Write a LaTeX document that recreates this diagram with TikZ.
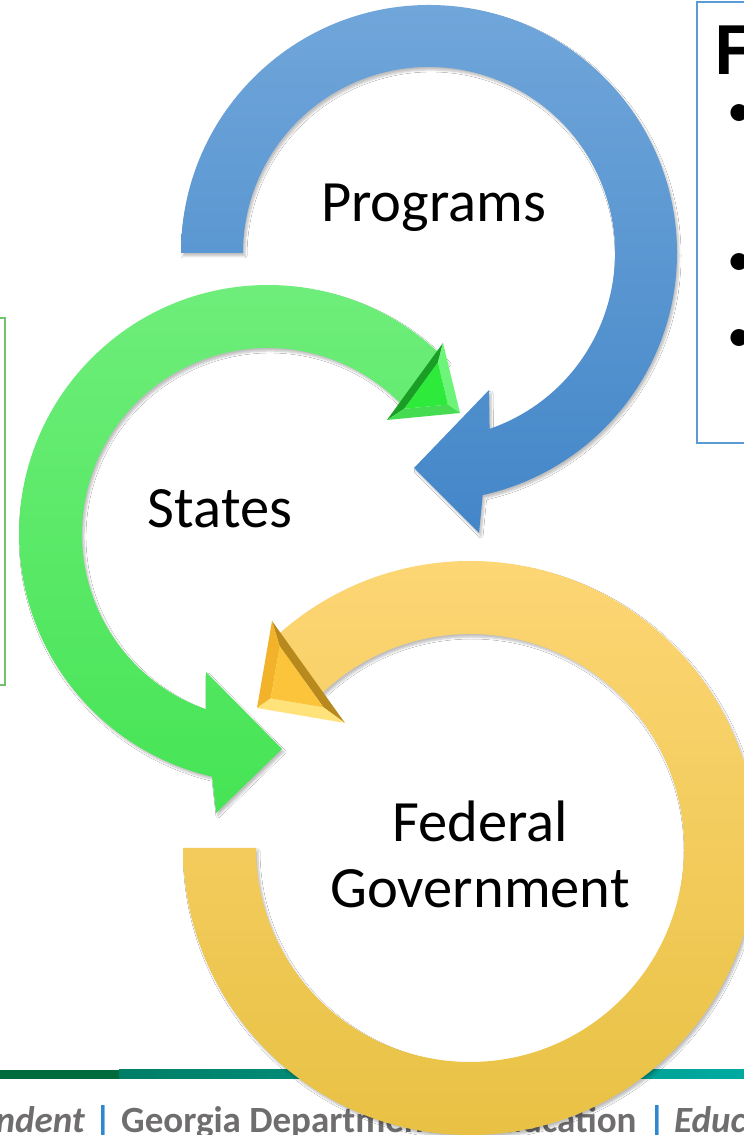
\documentclass[tikz,border=0pt]{standalone}
\usepackage{fontspec}
\setmainfont{Carlito}
\usetikzlibrary{calc,shadows.blur}
\definecolor{bluetop}{HTML}{70A6DA}
\definecolor{bluebot}{HTML}{4386C8}
\definecolor{greentop}{HTML}{70EE7C}
\definecolor{greenbot}{HTML}{46E455}
\definecolor{yeltop}{HTML}{FDD675}
\definecolor{yelbot}{HTML}{E8C144}
\definecolor{gbevdark}{HTML}{1A9E26}
\definecolor{gbevlight}{HTML}{6DF57A}
\definecolor{gbevmid}{HTML}{46DC52}
\definecolor{gbevcen}{HTML}{2EEA3B}
\definecolor{ybevdark}{HTML}{B88A1E}
\definecolor{ybevleft}{HTML}{F2B22A}
\definecolor{ybevlight}{HTML}{FFE37A}
\definecolor{ybevcen}{HTML}{FCC43A}
\definecolor{footgreen}{HTML}{006B3D}
\definecolor{teala}{HTML}{007E66}
\definecolor{tealb}{HTML}{00AAA0}
\definecolor{footgray}{HTML}{6F6D6D}
\definecolor{footblue}{HTML}{2E88D0}
\definecolor{boxblue}{HTML}{5B9BD5}
\definecolor{boxgreen}{HTML}{71C46E}
\tikzset{
  ringshadow/.style={blur shadow={shadow xshift=2pt, shadow yshift=-3pt,
      shadow blur radius=2pt, shadow blur steps=6, shadow opacity=25}},
  bluering/.style={top color=bluetop, bottom color=bluebot, ringshadow},
  greenring/.style={top color=greentop, bottom color=greenbot, ringshadow},
  yellowring/.style={top color=yeltop, bottom color=yelbot, ringshadow},
  lbl/.style={font=\fontsize{58.5}{70}\selectfont, inner sep=0pt, anchor=base, text=black},
  foot/.style={font=\bfseries\fontsize{37}{44}\selectfont, inner sep=0pt, text=footgray},
  footbar/.style={font=\bfseries\fontsize{37}{44}\selectfont, inner sep=0pt, text=footblue, anchor=base},
  bul/.style={font=\fontsize{48}{56}\selectfont, inner sep=0pt, anchor=base, text=black},
}
\begin{document}
\begin{tikzpicture}[x=1pt,y=1pt]
\useasboundingbox (0,0) rectangle (744,1135);
\clip (0,0) rectangle (744,1135);
\fill[white] (0,0) rectangle (744,1135);

% footer
\fill[footgreen] (0,56) rectangle (119,65);
\shade[left color=teala, right color=tealb] (119,56) rectangle (744,65);
\node[foot, anchor=base east] (ft1) at (85,2) {\itshape ndent};
\node[footbar] (bar1) at (103,2) {|};
\node[foot, anchor=base west] (ft2) at (121,2) {Georgia Department of Education};
\node[footbar] (bar2) at (657,2) {|};
\node[foot, anchor=base west] (ft3) at (674,2) {\itshape Educ};

% side boxes
\draw[boxgreen, line width=1.5pt] (-20,450) rectangle (5,817);
\draw[boxblue, line width=1.6pt] (697,692) rectangle (770,1133);
\node[anchor=base west, inner sep=0pt, font=\bfseries\fontsize{75}{80}\selectfont] (ftitle) at (715,1060) {F};
\node[bul] (b1) at (739,1008) {•};
\node[bul] (b2) at (739,859) {•};
\node[bul] (b3) at (739,783) {•};

% blue circular arrow
\coordinate (bc) at (429,882);
\shade[bluering] ($(bc)+(180:248)$) arc[start angle=180, end angle=-77.5, radius=248]
  -- (479,602) -- (414,667) -- (489,745)
  -- ($(bc)+(-71:186)$) arc[start angle=-71, end angle=180, radius=186] -- cycle;

% green circular arrow
\coordinate (gc) at (268,601);
\shade[greenring] ($(gc)+(44:249)$) arc[start angle=44, end angle=257, radius=249]
  -- (216,322) -- (282,386) -- (206,463)
  -- ($(gc)+(250.5:186)$) arc[start angle=250.5, end angle=44, radius=186] -- cycle;

% green bevel head
\coordinate (gA) at (443,792);
\coordinate (gB) at (387,715);
\coordinate (gT) at (460,722);
\coordinate (gO) at (barycentric cs:gA=1,gB=1,gT=1);
\coordinate (gA2) at ($(gA)!0.4!(gO)$);
\coordinate (gB2) at ($(gB)!0.4!(gO)$);
\coordinate (gT2) at ($(gT)!0.4!(gO)$);
\fill[gbevdark] (gA) -- (gB) -- (gB2) -- (gA2) -- cycle;
\fill[gbevlight] (gA) -- (gT) -- (gT2) -- (gA2) -- cycle;
\fill[gbevmid] (gB) -- (gT) -- (gT2) -- (gB2) -- cycle;
\fill[gbevcen] (gA2) -- (gB2) -- (gT2) -- cycle;

% yellow circular arrow
\coordinate (yc) at (470,287);
\shade[yellowring] ($(yc)+(180:287)$) arc[start angle=180, end angle=494, radius=287]
  -- ($(yc)+(494:214)$) arc[start angle=494, end angle=180, radius=214] -- cycle;

% yellow bevel head
\coordinate (yP) at (272,514);
\coordinate (yQ) at (345,412);
\coordinate (yT) at (257,427);
\coordinate (yO) at (barycentric cs:yP=1,yQ=1,yT=1);
\coordinate (yP2) at ($(yP)!0.4!(yO)$);
\coordinate (yQ2) at ($(yQ)!0.4!(yO)$);
\coordinate (yT2) at ($(yT)!0.4!(yO)$);
\fill[ybevdark] (yP) -- (yQ) -- (yQ2) -- (yP2) -- cycle;
\fill[ybevleft] (yP) -- (yT) -- (yT2) -- (yP2) -- cycle;
\fill[ybevlight] (yT) -- (yQ) -- (yQ2) -- (yT2) -- cycle;
\fill[ybevcen] (yP2) -- (yQ2) -- (yT2) -- cycle;

% labels
\node[lbl] (programs) at (433.5,913) {Programs};
\node[lbl] (states) at (220,607) {States};
\node[lbl] (federal) at (480.5,293) {Federal};
\node[lbl] (government) at (480,227) {Government};
\end{tikzpicture}
\end{document}
